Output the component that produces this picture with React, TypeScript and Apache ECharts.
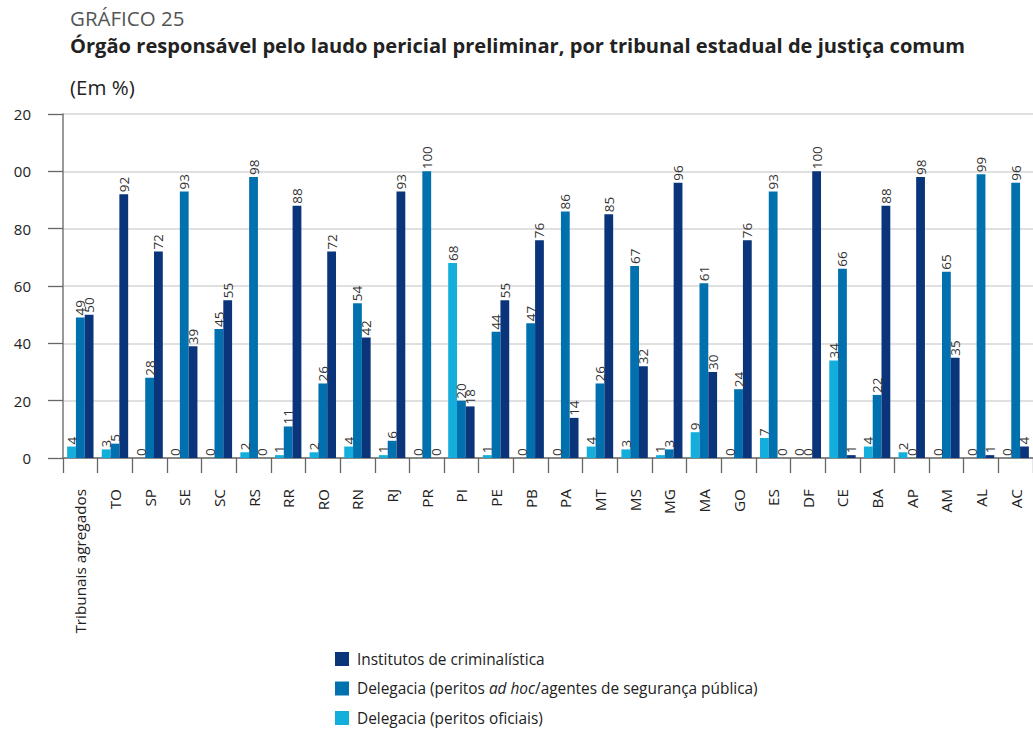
import React, { useEffect, useRef } from "react";
import * as echarts from "echarts";

const categories = ["Tribunais agregados", "TO", "SP", "SE", "SC", "RS", "RR", "RO", "RN", "RJ", "PR", "PI", "PE", "PB", "PA", "MT", "MS", "MG", "MA", "GO", "ES", "DF", "CE", "BA", "AP", "AM", "AL", "AC"];
const oficiais = [4, 3, 0, 0, 0, 2, 1, 2, 4, 1, 0, 68, 1, 0, 0, 4, 3, 1, 9, 0, 7, 0, 34, 4, 2, 0, 0, 0];
const adHoc = [49, 5, 28, 93, 45, 98, 11, 26, 54, 6, 100, 20, 44, 47, 86, 26, 67, 3, 61, 24, 93, 0, 66, 22, 0, 65, 99, 96];
const institutos = [50, 92, 72, 39, 55, 0, 88, 72, 42, 93, 0, 18, 55, 76, 14, 85, 32, 96, 30, 76, 0, 100, 1, 88, 98, 35, 1, 4];

const NAME_INST = "Institutos de criminalística";
const NAME_ADHOC = "Delegacia (peritos ad hoc/agentes de segurança pública)";
const NAME_OFIC = "Delegacia (peritos oficiais)";
const legendOrder = [NAME_INST, NAME_ADHOC, NAME_OFIC];
const legendTops = [651, 680.5, 710];

const FONT = "'Open Sans', 'Noto Sans', sans-serif";

export default function App() {
  const ref = useRef<HTMLDivElement>(null);
  useEffect(() => {
    if (!ref.current) return;
    const chart = echarts.init(ref.current, null, { renderer: "svg" });
    const label = {
      show: true,
      position: "top",
      rotate: 90,
      align: "left",
      verticalAlign: "middle",
      distance: 2,
      fontSize: 13.5,
      fontFamily: FONT,
      color: "#333",
    };
    const mk = (name: string, data: number[], color: string) => ({
      name,
      type: "bar",
      data,
      barWidth: 8.8,
      barGap: "0%",
      itemStyle: { color },
      label,
    });
    const legends = legendOrder.map((name, i) => ({
      orient: "vertical",
      left: 335,
      top: legendTops[i],
      padding: 0,
      itemWidth: 14,
      itemHeight: 14,
      icon: "rect",
      data: [name],
      formatter: (n: string) =>
        n === NAME_ADHOC
          ? "{n|Delegacia (peritos }{i|ad hoc}{n|/agentes de segurança pública)}"
          : n,
      textStyle: {
        fontSize: 15.4,
        lineHeight: 16,
        color: "#222",
        fontFamily: FONT,
        padding: [0, 0, 0, 3],
        rich: {
          n: { fontSize: 15.4, lineHeight: 16, color: "#222", fontFamily: FONT },
          i: { fontSize: 15.4, lineHeight: 16, color: "#222", fontFamily: FONT, fontStyle: "italic" },
        },
      },
    }));
    chart.setOption({
      animation: false,
      textStyle: { fontFamily: FONT },
      graphic: [
        { type: "text", x: 70, y: 18, style: { text: "GRÁFICO 25", fontSize: 20.5, fontFamily: FONT, fill: "#555", verticalAlign: "middle" } },
        { type: "text", x: 70, y: 45, style: { text: "Órgão responsável pelo laudo pericial preliminar, por tribunal estadual de justiça comum", fontSize: 20.1, fontWeight: "bold", fontFamily: FONT, fill: "#222", verticalAlign: "middle" } },
        { type: "text", x: 70, y: 86.5, style: { text: "(Em %)", fontSize: 20.5, fontFamily: FONT, fill: "#222", verticalAlign: "middle" } },
      ],
      legend: legends,
      grid: { left: 63, top: 114, right: -10, bottom: 271, containLabel: false },
      xAxis: {
        type: "category",
        data: categories,
        boundaryGap: true,
        axisLine: { show: true, lineStyle: { color: "#888", width: 2 } },
        axisTick: { show: true, length: 15, lineStyle: { color: "#666", width: 1.3 } },
        axisLabel: { rotate: 90, margin: 31, fontSize: 15.3, color: "#222", fontFamily: FONT, interval: 0 },
      },
      yAxis: {
        type: "value",
        min: 0,
        max: 120,
        interval: 20,
        axisLine: { show: true, lineStyle: { color: "#777", width: 1.5 } },
        axisTick: { show: true, length: 15, lineStyle: { color: "#666", width: 1.3 } },
        splitLine: { show: true, lineStyle: { color: "#d6d6d6", width: 1.5 } },
        axisLabel: {
          margin: 32,
          fontSize: 15,
          color: "#222",
          fontFamily: FONT,
          formatter: (v: number) => (v >= 100 ? String(v).slice(1) : String(v)),
        },
      },
      series: [
        mk(NAME_OFIC, oficiais, "#14AEDD"),
        mk(NAME_ADHOC, adHoc, "#0071AE"),
        mk(NAME_INST, institutos, "#0A357B"),
      ],
    });
    return () => chart.dispose();
  }, []);
  return (
    <div
      ref={ref}
      style={{ position: "fixed", left: 0, top: 0, width: 1033, height: 729, background: "#fff" }}
    />
  );
}
